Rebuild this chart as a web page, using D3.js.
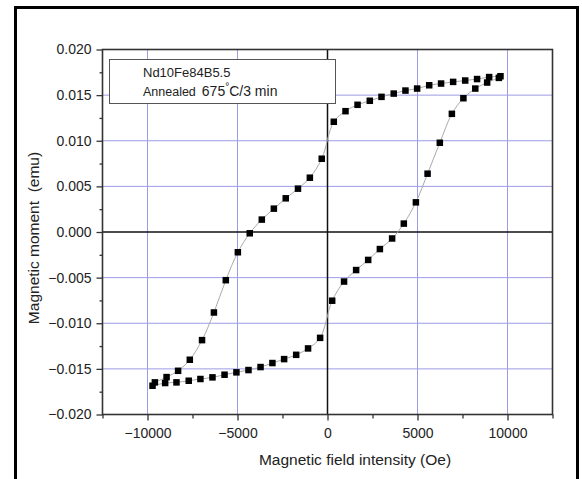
<!DOCTYPE html>
<html><head><meta charset="utf-8">
<script src="https://cdn.jsdelivr.net/npm/d3@7"></script>
<style>body{margin:0;background:#fff}svg{display:block}text{font-family:"Liberation Sans",Arial,sans-serif;fill:#222}</style>
</head><body>
<svg id="c" width="582" height="479"></svg>
<script>
const fieldDown = [9610, 8980, 8310, 7650, 6980, 6310, 5650, 4980, 4330, 3680, 3000, 2350, 1670, 1000, 350, -320, -980, -1640, -2320, -2980, -3650, -4320, -4980, -5650, -6310, -6970, -7650, -8300, -8940, -9590];
const momentDown = [0.01707, 0.01698, 0.01676, 0.01660, 0.01645, 0.01627, 0.01608, 0.01572, 0.01550, 0.01517, 0.01481, 0.01438, 0.01394, 0.01324, 0.01208, 0.00803, 0.00595, 0.00475, 0.00369, 0.00256, 0.00136, -0.00014, -0.00222, -0.00528, -0.00882, -0.01185, -0.01400, -0.01521, -0.01590, -0.01648];
const fieldUp = [-9720, -9020, -8390, -7710, -7060, -6390, -5720, -5060, -4390, -3720, -3060, -2410, -1740, -1080, -410, 260, 920, 1590, 2260, 2910, 3590, 4240, 4910, 5560, 6240, 6910, 7550, 8210, 8870, 9520];
const momentUp = [-0.01685, -0.01655, -0.01648, -0.01630, -0.01611, -0.01593, -0.01564, -0.01538, -0.01513, -0.01480, -0.01436, -0.01393, -0.01346, -0.01276, -0.01160, -0.00753, -0.00543, -0.00417, -0.00306, -0.00187, -0.00071, 0.00092, 0.00325, 0.00639, 0.00978, 0.01295, 0.01466, 0.01572, 0.01638, 0.01689];
const xTicks = [-10000, -5000, 0, 5000, 10000];
const xMinor = [-12500, -7500, -2500, 2500, 7500, 12500];
const yTicks = [-0.020, -0.015, -0.010, -0.005, 0.000, 0.005, 0.010, 0.015, 0.020];
const yMinor = [-0.0175, -0.0125, -0.0075, -0.0025, 0.0025, 0.0075, 0.0125, 0.0175];
const legendLines = ["Nd10Fe84B5.5", "Annealed", "675", "°", "C/3 min"];
const xTitle = "Magnetic field intensity (Oe)";
const yTitle = "Magnetic moment  (emu)";

const svg = d3.select("#c");
const x = d3.scaleLinear().domain([-12500, 12500]).range([102.5, 552.5]);
const y = d3.scaleLinear().domain([-0.02, 0.02]).range([414.5, 49.5]);

// outer frame
svg.append("rect").attr("x", 15.5).attr("y", 7.5).attr("width", 562).attr("height", 520)
  .attr("fill", "none").attr("stroke", "#000").attr("stroke-width", 3);

// grid
const grid = svg.append("g");
xTicks.filter(d => d !== 0).forEach(d => grid.append("line").attr("x1", x(d)).attr("x2", x(d)).attr("y1", y(0.02)).attr("y2", y(-0.02)).attr("stroke", "#9c9ce8").attr("stroke-width", 1));
yTicks.filter(d => d !== 0 && Math.abs(d) < 0.02).forEach(d => grid.append("line").attr("y1", y(d)).attr("y2", y(d)).attr("x1", x(-12500)).attr("x2", x(12500)).attr("stroke", "#9c9ce8").attr("stroke-width", 1));
grid.append("line").attr("x1", x(0)).attr("x2", x(0)).attr("y1", y(0.02)).attr("y2", y(-0.02)).attr("stroke", "#111").attr("stroke-width", 1.5);
grid.append("line").attr("y1", y(0)).attr("y2", y(0)).attr("x1", x(-12500)).attr("x2", x(12500)).attr("stroke", "#111").attr("stroke-width", 1.5);

// axes
const fmtY = d3.format(".3f");
svg.append("g").attr("transform", `translate(0,${y(-0.02)})`)
  .call(d3.axisBottom(x).tickValues(xTicks).tickSize(6).tickPadding(8).tickFormat(d3.format("d")));
svg.append("g").attr("transform", `translate(0,${y(-0.02)})`)
  .call(d3.axisBottom(x).tickValues(xMinor).tickSize(4).tickFormat(""));
svg.append("g").attr("transform", `translate(${x(-12500)},0)`)
  .call(d3.axisLeft(y).tickValues(yTicks).tickSize(6).tickPadding(5).tickFormat(d => fmtY(d).replace("-0.000", "0.000")));
svg.append("g").attr("transform", `translate(${x(-12500)},0)`)
  .call(d3.axisLeft(y).tickValues(yMinor).tickSize(3).tickFormat(""));
svg.selectAll(".domain").remove();
svg.selectAll(".tick line").attr("stroke", "#333").attr("stroke-width", 1.3);
svg.selectAll(".tick text").attr("font-size", 14).attr("fill", "#222").style("font-family", "'Liberation Sans', Arial, sans-serif");

// plot frame
svg.append("rect").attr("x", x(-12500)).attr("y", y(0.02)).attr("width", x(12500) - x(-12500)).attr("height", y(-0.02) - y(0.02))
  .attr("fill", "none").attr("stroke", "#333").attr("stroke-width", 1.6);

// legend
const lg = svg.append("g");
lg.append("rect").attr("x", 109.5).attr("y", 59.5).attr("width", 226).attr("height", 44).attr("fill", "#fff").attr("stroke", "#555").attr("stroke-width", 1);
lg.append("text").attr("x", 143).attr("y", 77).attr("font-size", 13).text(legendLines[0]);
const t2 = lg.append("text").attr("x", 143).attr("y", 96).attr("font-size", 12.5);
t2.append("tspan").text(legendLines[1]);
t2.append("tspan").attr("dx", 6).attr("font-size", 14).text(legendLines[2]);
t2.append("tspan").attr("font-size", 10).attr("dy", -6).text(legendLines[3]);
t2.append("tspan").attr("font-size", 14).attr("dy", 6).text(legendLines[4]);

// data
const down = fieldDown.map((f, i) => [f, momentDown[i]]);
const up = fieldUp.map((f, i) => [f, momentUp[i]]);
const line = d3.line().x(d => x(d[0])).y(d => y(d[1])).curve(d3.curveCatmullRom);
[down, up].forEach(s => svg.append("path").attr("d", line(s)).attr("fill", "none").attr("stroke", "#aaa").attr("stroke-width", 1));
const sz = 6.5;
[down, up].forEach(s => svg.append("g").selectAll("rect").data(s).join("rect")
  .attr("x", d => x(d[0]) - sz / 2).attr("y", d => y(d[1]) - sz / 2).attr("width", sz).attr("height", sz).attr("fill", "#000"));

// titles
svg.append("text").attr("x", 355).attr("y", 465).attr("text-anchor", "middle").attr("font-size", 15.5).text(xTitle);
svg.append("text").attr("transform", "translate(39,238) rotate(-90)").attr("text-anchor", "middle").attr("font-size", 15.5)
  .style("white-space", "pre").text(yTitle);
</script>
</body></html>
